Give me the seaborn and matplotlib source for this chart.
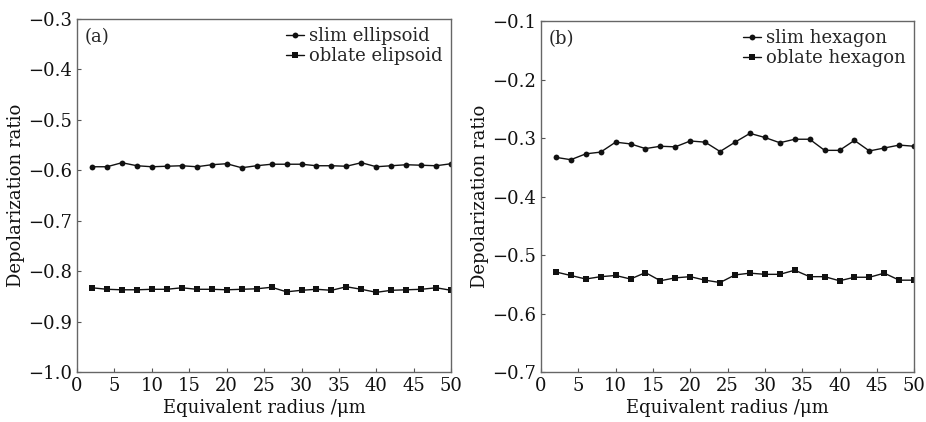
import numpy as np
import pandas as pd
import matplotlib
matplotlib.use("Agg")
import matplotlib.pyplot as plt
import seaborn as sns

# equivalent radius (um)
radius = list(range(2, 51, 2))

# (a) ellipsoids
slim_ellipsoid = [-0.593, -0.593, -0.585, -0.591, -0.593, -0.592, -0.591, -0.593, -0.589, -0.587,
                  -0.595, -0.591, -0.588, -0.588, -0.588, -0.591, -0.591, -0.592, -0.585, -0.593,
                  -0.591, -0.589, -0.590, -0.591, -0.587]
oblate_ellipsoid = [-0.833, -0.836, -0.837, -0.837, -0.836, -0.836, -0.833, -0.836, -0.836, -0.837,
                    -0.836, -0.835, -0.832, -0.841, -0.838, -0.836, -0.838, -0.831, -0.836, -0.842,
                    -0.838, -0.837, -0.836, -0.833, -0.838]

# (b) hexagons
slim_hexagon = [-0.333, -0.337, -0.327, -0.324, -0.307, -0.310, -0.318, -0.314, -0.315, -0.305,
                -0.307, -0.323, -0.307, -0.292, -0.299, -0.308, -0.302, -0.302, -0.321, -0.321,
                -0.304, -0.322, -0.317, -0.312, -0.314]
oblate_hexagon = [-0.529, -0.535, -0.541, -0.537, -0.535, -0.541, -0.530, -0.544, -0.539, -0.537,
                  -0.543, -0.547, -0.534, -0.531, -0.533, -0.533, -0.526, -0.537, -0.537, -0.544,
                  -0.538, -0.538, -0.531, -0.543, -0.543]

sns.set_style("ticks")
plt.rcParams['font.family'] = ['DejaVu Serif', 'DejaVu Sans']
plt.rcParams['mathtext.fontset'] = 'dejavuserif'

fig = plt.figure(figsize=(9.26, 4.22), dpi=100)
ax1 = fig.add_axes([0.0832, 0.1185, 0.404, 0.8365])
ax2 = fig.add_axes([0.5842, 0.1185, 0.403, 0.8315])


def draw_panel(ax, slim, oblate, names, ylim, yticks, tag):
    df = pd.DataFrame({"radius": radius * 2,
                       "ratio": slim + oblate,
                       "shape": [names[0]] * len(radius) + [names[1]] * len(radius)})
    sns.lineplot(data=df, x="radius", y="ratio", hue="shape", style="shape",
                 markers=["o", "s"], dashes=False, palette=["#111111", "#111111"],
                 markersize=4.2, linewidth=1.0, markeredgewidth=0, ax=ax)
    ax.set_xlim(0, 50)
    ax.set_ylim(*ylim)
    ax.set_xticks(range(0, 51, 5))
    ax.set_yticks(yticks)
    ax.set_yticklabels(["\u2212%.1f" % abs(v) for v in yticks])
    ax.tick_params(direction="in", length=3, width=0.8, labelsize=13, color="#555555",
                   labelcolor="#111111")
    for sp in ax.spines.values():
        sp.set_color("#666666")
        sp.set_linewidth(1.0)
    ax.set_xlabel("Equivalent radius /\u03bcm", fontsize=13, labelpad=3, color="#111111")
    ax.set_ylabel("Depolarization ratio", fontsize=13, labelpad=2, color="#111111")
    ax.text(0.02, 0.975, tag, transform=ax.transAxes, fontsize=13, va="top", ha="left")
    ax.legend(loc="upper right", frameon=False, fontsize=13, handlelength=1.0,
              handletextpad=0.3, labelspacing=0.12, borderaxespad=0.35,
              borderpad=0.1, title=None)


draw_panel(ax1, slim_ellipsoid, oblate_ellipsoid, ["slim ellipsoid", "oblate elipsoid"],
           (-1.0, -0.3), [-1.0, -0.9, -0.8, -0.7, -0.6, -0.5, -0.4, -0.3], "(a)")
draw_panel(ax2, slim_hexagon, oblate_hexagon, ["slim hexagon", "oblate hexagon"],
           (-0.7, -0.1), [-0.7, -0.6, -0.5, -0.4, -0.3, -0.2, -0.1], "(b)")

fig.savefig("out.png", dpi=100)
